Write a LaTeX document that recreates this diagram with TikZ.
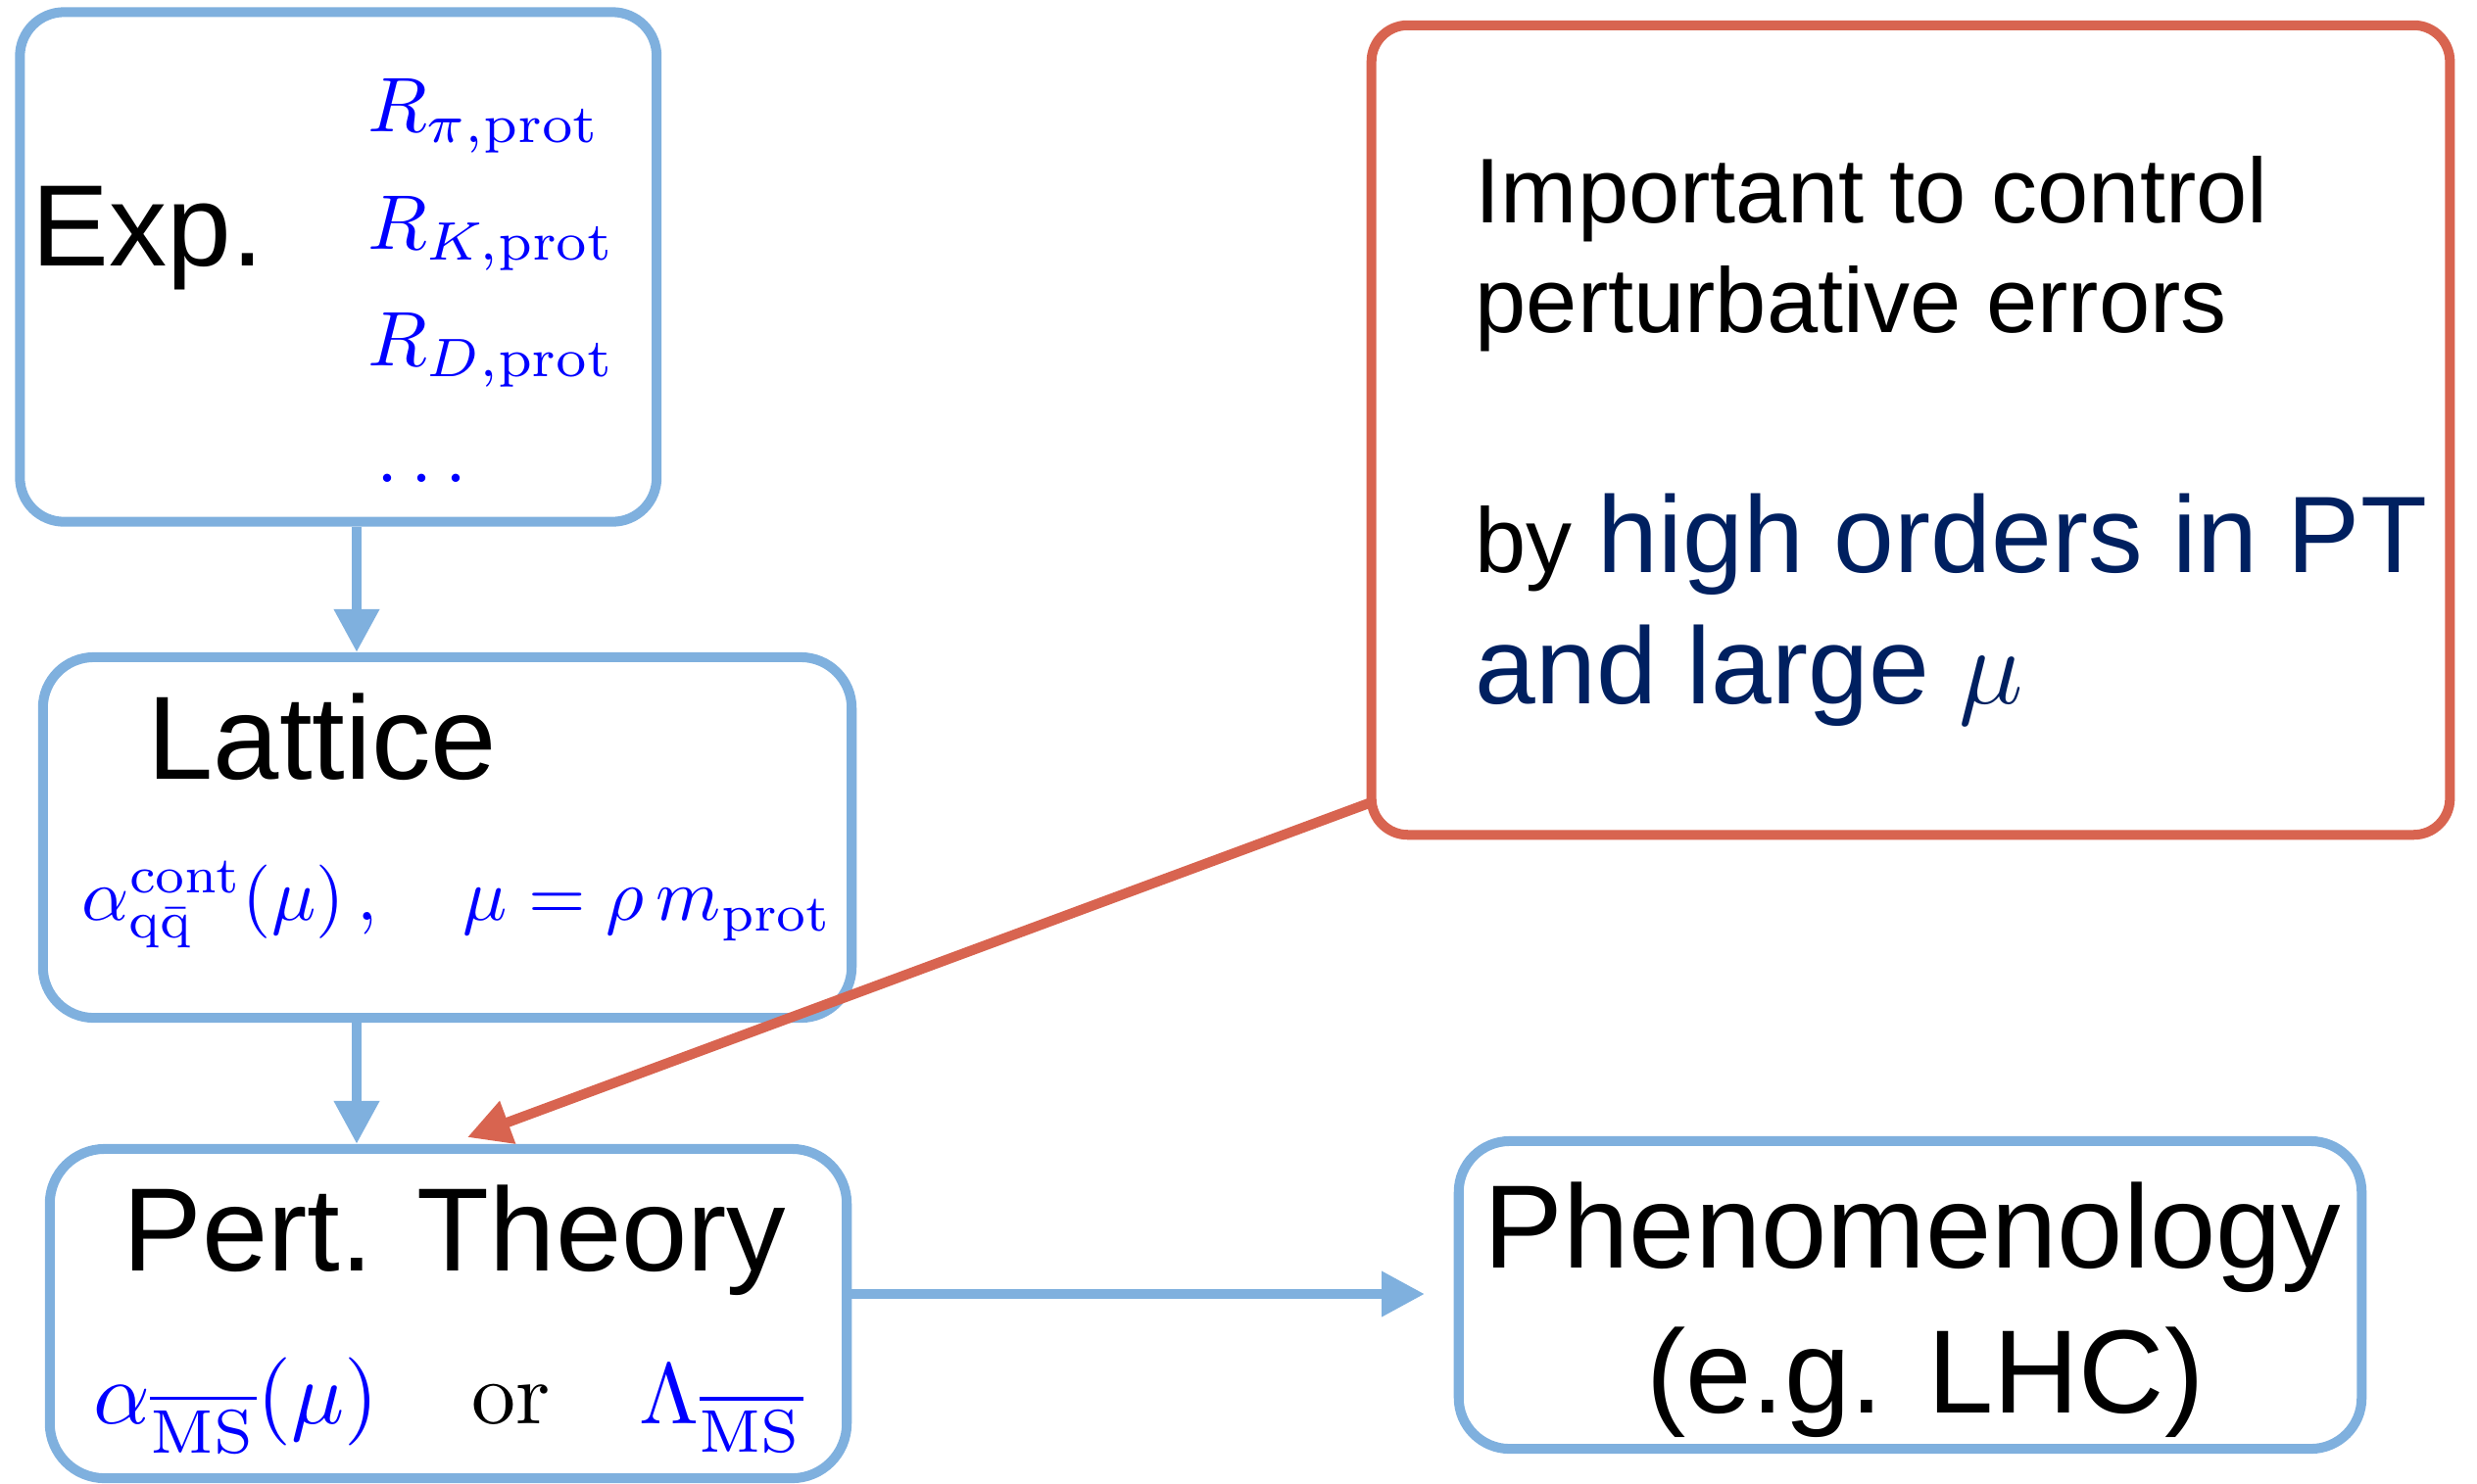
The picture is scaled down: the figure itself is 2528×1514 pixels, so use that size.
\RequirePackage{fix-cm}
\documentclass[tikz,border=0pt]{standalone}
\usepackage[no-math]{fontspec}
\usepackage{graphicx}
\newfontfamily\hv{Liberation Sans}
\usetikzlibrary{arrows.meta}
\definecolor{lblue}{RGB}{127,176,222}
\definecolor{rred}{RGB}{216,100,80}
\definecolor{navy}{RGB}{0,32,96}
\definecolor{mblue}{RGB}{0,0,255}
\tikzset{
  box/.style={draw=lblue, line width=2.85pt, rectangle, inner sep=0pt},
  redbox/.style={draw=rred, line width=2.85pt, rectangle, inner sep=0pt},
  conn/.style={draw=lblue, line width=2.9pt, -{Triangle[length=12.5pt,width=12.5pt]}},
  rconn/.style={draw=rred, line width=2.9pt, -{Triangle[length=12.5pt,width=12.5pt]}},
  ttl/.style={inner sep=0pt, anchor=base west, font=\hv\fontsize{34.4}{41}\selectfont},
  mth/.style={inner sep=0pt, anchor=base west, text=mblue, font=\fontsize{10}{12}\selectfont},
  rtxt/.style={inner sep=0pt, anchor=base west, font=\hv\fontsize{26.7}{32}\selectfont},
}
\begin{document}
\begin{tikzpicture}[x=0.01cm,y=-0.01cm]
\useasboundingbox (0,0) rectangle (2528,1514);
% boxes
\node[box, rounded corners=0.45cm, minimum width=6.495cm, minimum height=5.2cm] (exp) at (345.25,272.5) {};
\node[box, rounded corners=0.52cm, minimum width=8.25cm, minimum height=3.68cm] (lat) at (456.5,855) {};
\node[box, rounded corners=0.56cm, minimum width=8.13cm, minimum height=3.36cm] (pert) at (457.5,1341) {};
\node[box, rounded corners=0.52cm, minimum width=9.21cm, minimum height=3.14cm] (phen) at (1949.5,1322) {};
\node[redbox, rounded corners=0.37cm, minimum width=11cm, minimum height=8.26cm] (red) at (1950,439) {};
% Exp box texts
\node[ttl, font=\hv\fontsize{33.6}{40}\selectfont] (expt) at (32,271) {Exp.};
\node[mth] (r1) at (375,134) {\scalebox{2.25}{$R_{\pi,\mathrm{prot}}$}};
\node[mth] (r2) at (375,254) {\scalebox{2.25}{$R_{K,\mathrm{prot}}$}};
\node[mth] (r3) at (375,373) {\scalebox{2.25}{$R_{D,\mathrm{prot}}$}};
\node[mth] (r4) at (384,492) {\scalebox{2.25}{$\ldots$}};
% Lattice texts
\node[ttl] (latt) at (150,795) {Lattice};
\node[mth] (latf) at (83,939) {\scalebox{2.14}{$\alpha^{\mathrm{cont}}_{\mathrm{q\bar q}}(\mu)\,,\quad \mu=\rho\,m_{\mathrm{prot}}$}};
% Pert texts
\node[ttl] (pertt) at (125,1297) {Pert. Theory};
\node[mth] (pa) at (95,1453) {\scalebox{2.56}{$\alpha_{\overline{\mathrm{MS}}}(\mu)$}};
\node[mth, text=black] (por) at (481,1453) {\scalebox{2.56}{$\mathrm{or}$}};
\node[mth] (pl) at (652,1453) {\scalebox{2.5}{$\Lambda_{\overline{\mathrm{MS}}}$}};
% Phenomenology texts
\node[ttl, anchor=base] (pht) at (1952,1294) {Phenomenology};
\node[ttl, anchor=base] (pht2) at (1965,1442) {(e.g. LHC)};
% red box texts
\node[rtxt] (t1) at (1505,227) {Important to control};
\node[rtxt] (t2) at (1505,339) {perturbative errors};
\node[rtxt] (t3) at (1505,584) {by {\color{navy}\fontsize{31.6}{38}\selectfont high orders in PT}};
\node[rtxt, text=navy, font=\hv\fontsize{31.6}{38}\selectfont] (t4) at (1505,718) {and large $\mu$};
% connectors
\coordinate (ax) at (364,0);
\coordinate (hy) at (0,1321);
\coordinate (ptip) at (1454,1321);
\coordinate (rs) at (1397,820);
\coordinate (rt) at (477,1161);
\draw[conn] (exp.south -| ax) -- (lat.north -| ax);
\draw[conn] (lat.south -| ax) -- (pert.north -| ax);
\draw[conn] (pert.east |- hy) -- (ptip);
\draw[rconn] (rs) -- (rt);
\end{tikzpicture}
\end{document}
